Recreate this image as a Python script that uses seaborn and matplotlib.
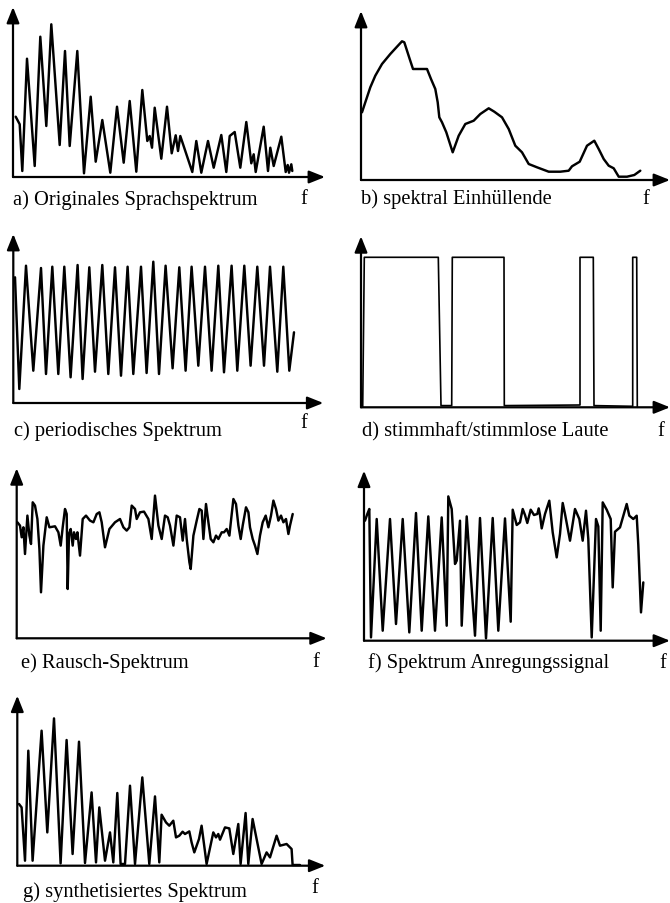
import matplotlib
matplotlib.use("Agg")
import matplotlib.pyplot as plt
import seaborn as sns

sns.set_theme(style="white")
plt.rcParams['font.family'] = ['Liberation Serif', 'DejaVu Serif']

# ---------------- data (x: frequency position, y: amplitude) ----------------
a_x = [2.7, 6.7, 9.3, 14, 21.7, 27.3, 33.3, 38.3, 46.7, 52, 56.7, 64.3, 71, 77.7, 82.7, 89.3,
       97.3, 104, 110.7, 116.7, 123.3, 129.3, 134.3, 136.7, 139, 141.7, 148.3, 154, 158.7,
       162.7, 165, 167.3, 179.3, 183.3, 188.3, 195, 200.7, 208.3, 213.3, 216.7, 221.7, 227.3,
       233.3, 238.3, 240.7, 242.7, 250.7, 255, 257.3, 260.7, 268.3, 272.7, 274.7, 276, 278.3, 279.3]
a_y = [60.3, 52.7, 6, 118.3, 11, 140.3, 51, 152.7, 32, 126, 31, 126, 3.7, 80.3, 15.3, 57,
       4.3, 70.3, 14.3, 76, 5.3, 87, 36, 41, 29.3, 69.3, 18.3, 70.3, 23.7,
       41.7, 26, 41, 5, 36, 4.3, 36, 9.3, 42, 5, 41, 45, 9.3,
       55, 13.7, 22.7, 5, 50.3, 6, 29.3, 11, 40.3, 5, 12, 4.3, 12.7, 6]

b_x = [1, 4.3, 9.3, 14.3, 21, 29.3, 36, 41, 43.3, 48.7, 52, 66, 70, 74.3, 76.7, 78.3, 81, 85.3,
       91.7, 97.7, 104.3, 112.7, 119.3, 127.7, 133.3, 141, 147.7, 154.3, 161, 167.7, 176,
       187.7, 199.3, 207.7, 211, 218.7, 226, 233.3, 237.7, 242.7, 247.7, 252.7, 257.7, 266,
       273.3, 279.3]
b_y = [67.7, 77.7, 92.7, 104.3, 116, 126, 133.3, 138.7, 137.7, 121, 111, 111, 101, 91, 77.7,
       62.7, 57.7, 47.7, 27.7, 44.3, 56, 59.3, 66, 71.7, 68.3, 62.7, 51, 34.3, 27.7, 16, 12.7,
       8.3, 8.3, 9.3, 13.7, 18.3, 34.3, 39.3, 31, 21, 14.3, 11.7, 3.3, 3.3, 5, 9.3]

c_x = [1.7, 6, 12.7, 20, 27.7, 32.7, 39, 45, 51, 57.3, 64.3, 69.3, 76, 81.7, 89, 95, 101.7,
       107.7, 114.3, 120, 127.7, 133.3, 140, 145.7, 152.3, 159.3, 166, 172.3, 178.3, 185,
       191.7, 198.3, 205, 210.7, 218.3, 224, 231, 237.3, 244, 250.7, 256.7, 264, 270, 276, 280.7]
c_y = [125.7, 14, 137.3, 32.3, 135, 29, 136.3, 29, 136.3, 25.7, 138, 24, 135.7, 31.3, 138, 29,
       135.7, 27.3, 136.3, 29, 136.3, 30, 141.3, 29, 137.3, 34.7, 135.7, 32.3, 136.3, 37.3,
       136.3, 32.3, 137.3, 30.7, 137.3, 32.3, 137.3, 37.3, 136.3, 37.3, 136.3, 31.3, 136.3,
       32.3, 70.7]

d_x = [1.7, 3.3, 77.3, 80, 90.7, 91.3, 143, 143.3, 219, 219, 232.3, 233, 271.7, 271.7, 275.7, 276.3]
d_y = [0, 150, 150, 1.7, 1.7, 150, 150, 1.7, 2.3, 150, 150, 1.7, 1, 150, 150, 0]

e_x = [0.7, 3.3, 5, 6.7, 8.3, 10.7, 12.7, 14.3, 16, 18.3, 20.7, 22.7, 24.3, 26.7, 30, 32.7,
       38.3, 41.7, 44, 46, 48.3, 50, 51, 52.3, 54, 56, 57.3, 59.3, 60.7, 63.3, 66, 69.3, 73.3,
       76.7, 80, 82.7, 85, 88.3, 92.7, 98.3, 103.3, 106.7, 110, 112.7, 115, 118.3, 120, 123.3,
       127.3, 131.7, 135, 138.3, 141.7, 145, 148.3, 151, 153.3, 156.7, 160, 163.3, 166, 168.3,
       170, 172.7, 174, 176.7, 180, 182.7, 185, 186.7, 189.3, 191.7, 194, 196.7, 199.3, 201.7,
       205, 207.3, 210, 212.7, 214.3, 216.7, 219.3, 221.7, 224, 226, 229.3, 231.7, 233.3, 236,
       238.3, 240.7, 243.3, 246, 249, 251.7, 254.3, 256.7, 259.3, 261.7, 264.3, 266.7, 269.3,
       271.7, 273.3, 276]
e_y = [116, 112.7, 101, 111, 84.3, 122.7, 102.7, 94.3, 136, 132.7, 119.3, 89.3, 46, 92.7, 121, 111,
       112, 106, 92.7, 111, 129.3, 124.3, 49.3, 104.3, 109.3, 92.7, 106, 99.3, 106, 82.7, 119.3,
       122.7, 117.7, 116, 124.3, 126, 116, 91, 109.3, 116, 119.3, 111, 107.7, 111, 132.7, 129.3,
       119.3, 126, 126.7, 119.3, 99.3, 142.7, 112.7, 99.3, 122.7, 121, 112.7, 92.7, 122.7, 121,
       97.7, 119.3, 99.3, 76, 69.3, 102.7, 117.7, 129.3, 127.7, 99.3, 134.3, 116, 99.3, 96,
       102.7, 99.3, 106, 106, 109.3, 102.7, 117.7, 139.3, 134.3, 112.7, 99.3, 112.7, 131, 126,
       111, 99.3, 92.7, 84.3, 102.7, 116, 122.7, 111, 122.7, 137.7, 129.3, 117.7, 122.7, 116,
       119.3, 104.3, 112.7, 124.3]

f_x = [1, 3.3, 5.3, 7, 12.7, 18.7, 26, 32, 38.7, 45.3, 52, 57.7, 64.3, 71, 77.7, 82.7, 84.3,
       87.7, 91, 92.7, 96, 97.7, 102.7, 111, 116, 122, 128.7, 134.3, 141, 146.7, 148.7, 152.7,
       156, 158.7, 161, 163.3, 166.7, 170, 173.3, 174.7, 176, 177.7, 181, 185.3, 188.7, 192.7,
       196, 198.7, 201, 206, 211, 215.3, 218.7, 222, 224.3, 227.7, 232, 234.3, 236.7, 238.7,
       242.7, 246.7, 248.7, 251, 256, 262.7, 265.3, 269.3, 272.7, 274.3, 277, 279.3]
f_y = [120, 126.7, 131.7, 3.3, 121.7, 10, 121.7, 16.7, 121.7, 8.3, 127.7, 10, 124.3, 10, 123.3,
       15, 144.3, 131.7, 76.7, 80, 120, 15, 124.3, 5, 122.7, 2.3, 122.7, 10, 122.3, 19, 131,
       115.7, 118.3, 131.7, 125.7, 117.7, 131, 125.7, 126.7, 132.3, 125.7, 112.3, 126.7, 140,
       108.3, 83.3, 106.7, 137.7, 126.7, 100, 131.7, 121.7, 100, 130, 101.7, 3.3, 121.7, 114.3,
       10, 138.3, 131, 121.7, 53.3, 109, 113.3, 136.7, 125, 121.7, 125, 95.7, 28.3, 58.3]

g_x = [1.7, 4.3, 7.7, 11, 15.3, 24.3, 30, 36.7, 43.3, 49.3, 55.3, 61.7, 67.7, 74.3, 78.7, 82,
       87.7, 92.7, 96, 100, 103.3, 107.7, 112.7, 117.7, 125, 132, 137.7, 142, 144.3, 148.7,
       152, 156, 158.7, 162, 165.3, 167.7, 172, 174.3, 177, 181.7, 184.3, 189.3, 196, 198.7,
       201, 202.7, 207.7, 212, 216, 221, 223.3, 228.3, 231, 235.3, 244.3, 249.3, 252.7, 259.3,
       262.7, 269.3, 274.3, 275.3, 282.7]
g_y = [61.7, 58.3, 5, 115, 5, 135, 33.3, 147.3, 2.3, 125.7, 11.7, 124, 2.7, 73.3, 3.3, 58.3,
       5, 33.3, 3.3, 72.7, 1.7, 1.7, 80, 1.7, 88.3, 1.7, 69.3, 3.3, 51, 43.3, 40, 45, 28.3, 30,
       34, 31.7, 34.3, 23.3, 13.3, 26.7, 40, 1.7, 33.3, 28.3, 31.7, 26, 38.3, 37.3, 11.7, 41.7,
       1.7, 52.7, 1.7, 46.7, 1.7, 13.3, 8.3, 30, 20, 21.7, 16.7, 0.7, 0.7]

labels = ["a) Originales Sprachspektrum", "b) spektral Einhüllende", "c) periodisches Spektrum",
          "d) stimmhaft/stimmlose Laute", "e) Rausch-Spektrum", "f) Spektrum Anregungssignal",
          "g) synthetisiertes Spektrum"]
axis_label = "f"

# ---------------- layout (pixels in a 670 x 904 canvas) ----------------
FW, FH = 670, 904
# origin x, origin y (from top), axis length x, axis length y
geom = [(13, 178, 312, 170), (361, 181, 309, 169), (13.3, 404, 310, 169),
        (361, 408.3, 309, 171), (16.7, 639.3, 310, 170), (364, 641.7, 306, 170),
        (17.3, 866.7, 308, 170)]
label_pos = [(13, 205), (361, 204), (14, 436), (362, 436), (21, 668), (368, 668), (23, 897)]
f_pos = [(300, 204), (642, 204), (300, 428), (657, 436), (312, 667), (659, 668), (311, 893)]
line_w = [1.75, 1.75, 1.75, 1.2, 1.75, 1.75, 1.75]

series = [(a_x, a_y), (b_x, b_y), (c_x, c_y), (d_x, d_y), (e_x, e_y), (f_x, f_y), (g_x, g_y)]

fig = plt.figure(figsize=(FW / 100, FH / 100), dpi=100)
fig.patch.set_facecolor("white")

for (ox, oy, W, H), (xs, ys), lw in zip(geom, series, line_w):
    ax = fig.add_axes([ox / FW, 1 - oy / FH, W / FW, H / FH])
    ax.set_xlim(0, W)
    ax.set_ylim(0, H)
    ax.axis("off")
    sns.lineplot(x=xs, y=ys, sort=False, estimator=None, ax=ax, color="black",
                 linewidth=lw, solid_joinstyle="round", solid_capstyle="round", clip_on=False)
    arrow = dict(arrowstyle="-|>,head_length=0.8,head_width=0.32", lw=1.6, color="black",
                 shrinkA=0, shrinkB=0)
    ax.annotate("", xy=(1, 0), xytext=(0, 0), xycoords="axes fraction",
                textcoords="axes fraction", arrowprops=arrow, annotation_clip=False)
    ax.annotate("", xy=(0, 1), xytext=(0, 0), xycoords="axes fraction",
                textcoords="axes fraction", arrowprops=arrow, annotation_clip=False)

for txt, (lx, ly), (fx, fy) in zip(labels, label_pos, f_pos):
    fig.text(lx / FW, 1 - ly / FH, txt, fontsize=14.8, va="baseline", ha="left", color="black")
    fig.text(fx / FW, 1 - fy / FH, axis_label, fontsize=14.8, va="baseline", ha="left",
             color="black")

fig.savefig("out.png", dpi=100, facecolor="white")
